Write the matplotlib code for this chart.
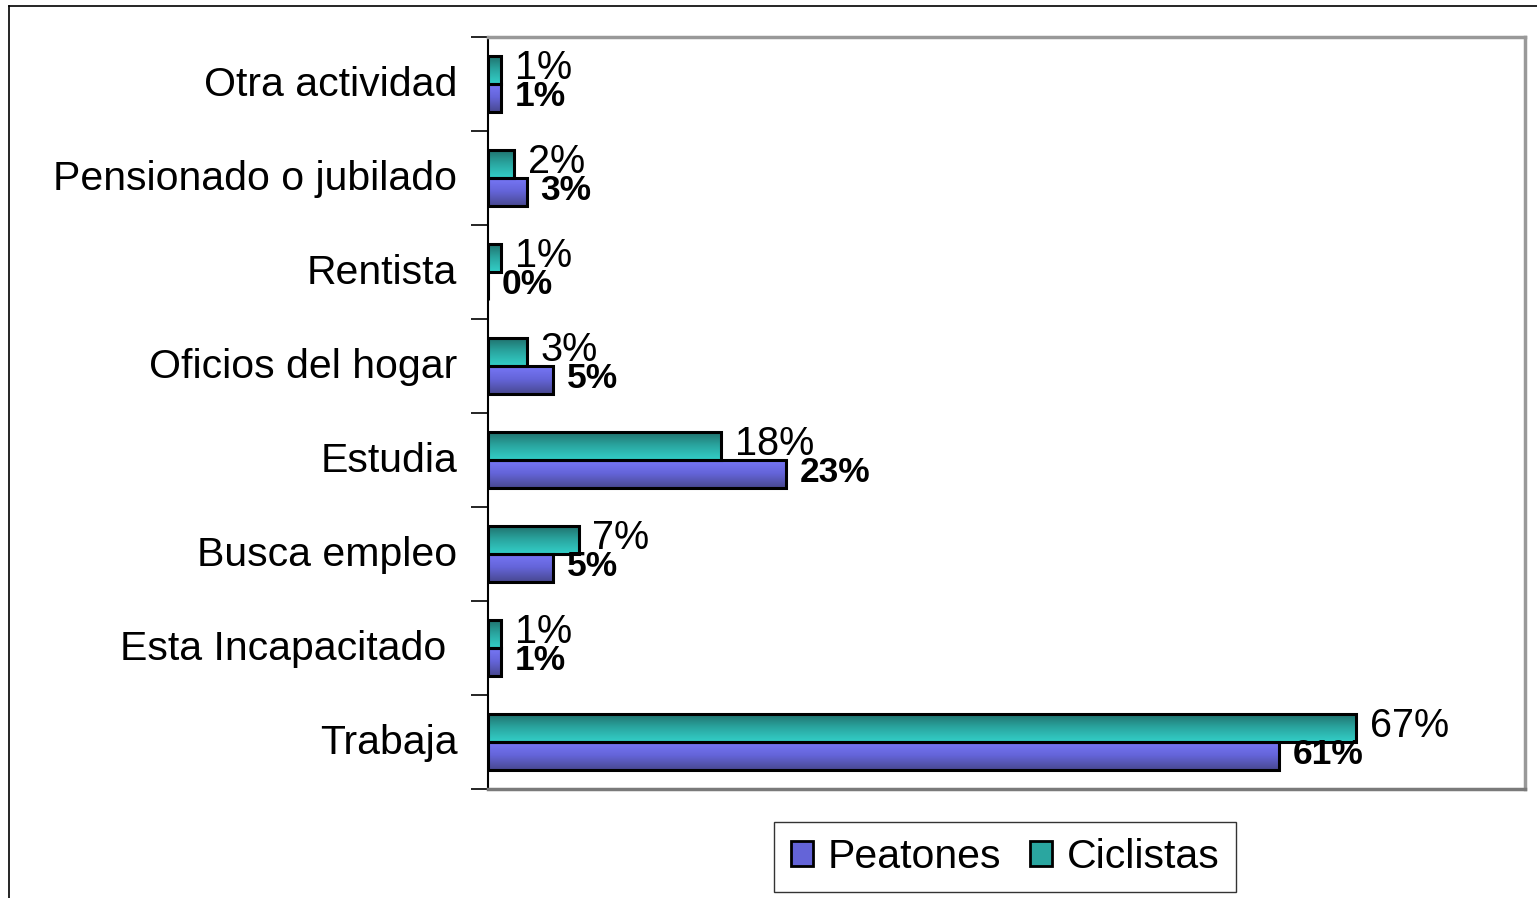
import numpy as np
import matplotlib
matplotlib.use("Agg")
import matplotlib.pyplot as plt
from matplotlib.colors import LinearSegmentedColormap
from matplotlib.patches import Patch
from matplotlib.lines import Line2D
from matplotlib.transforms import ScaledTranslation

plt.rcParams['font.family'] = ['Liberation Sans', 'DejaVu Sans']

categories = ["Trabaja", "Esta Incapacitado ", "Busca empleo", "Estudia",
              "Oficios del hogar", "Rentista", "Pensionado o jubilado", "Otra actividad"]
peatones = [61, 1, 5, 23, 5, 0, 3, 1]
ciclistas = [67, 1, 7, 18, 3, 1, 2, 1]
series_names = ["Peatones", "Ciclistas"]

W, H = 1537, 898
fig = plt.figure(figsize=(W / 100, H / 100), dpi=100)
ax = fig.add_axes([488 / W, 1 - 789 / H, (1525 - 488) / W, (789 - 37) / H])

y = np.arange(len(categories))
bh = 0.3
bars_p = ax.barh(y - bh / 2, peatones, height=bh, color="#6a6ae0", edgecolor="black", linewidth=2.2, zorder=3)
bars_c = ax.barh(y + bh / 2, ciclistas, height=bh, color="#29a8a2", edgecolor="black", linewidth=2.2, zorder=3)

# vertical gradients: colormap index 0 = top of bar
cm_p = LinearSegmentedColormap.from_list("p", ["#7878f8", "#6464d8", "#484890"])
cm_c = LinearSegmentedColormap.from_list("c", ["#1f6e6a", "#2aa6a0", "#33cfc8"])
grad = np.linspace(0, 1, 64).reshape(-1, 1)
for bars, cm in ((bars_p, cm_p), (bars_c, cm_c)):
    for b in bars:
        x0, y0, w, h = b.get_x(), b.get_y(), b.get_width(), b.get_height()
        if w <= 0:
            continue
        im = ax.imshow(grad, cmap=cm, aspect="auto", extent=(x0, x0 + w, y0, y0 + h),
                       origin="upper", zorder=3.5, interpolation="bilinear")
        im.set_clip_path(b)
        b.set_facecolor("none")
        b.set_zorder(4)

ax.set_xlim(0, 80)
ax.set_ylim(-0.5, len(categories) - 0.5)

for i in range(len(categories)):
    ax.text(ciclistas[i] + 1.05, y[i] + bh / 2 + 0.02, f"{ciclistas[i]}%", fontsize=28.5,
            va="center", ha="left", zorder=5)
    ax.text(peatones[i] + 1.05, y[i] - bh / 2 + 0.02, f"{peatones[i]}%", fontsize=25.5,
            fontweight="bold", va="center", ha="left", zorder=5)

ax.set_xticks([])
ax.set_yticks(y)
ax.set_yticklabels(categories, fontsize=29.5)
ax.set_yticks(np.arange(-0.5, len(categories), 1), minor=True)
ax.tick_params(axis="y", which="major", length=0, pad=22)
ax.tick_params(axis="y", which="minor", length=12, width=1.2, color="black", direction="out")
shift = ScaledTranslation(0, 3 / 100, fig.dpi_scale_trans)
for lbl in ax.get_yticklabels():
    lbl.set_transform(lbl.get_transform() + shift)

for s in ("top", "right", "bottom"):
    ax.spines[s].set_color("#999999")
    ax.spines[s].set_linewidth(2.5)
ax.spines["bottom"].set_color("#7a7a7a")
ax.spines["left"].set_color("black")
ax.spines["left"].set_linewidth(1.5)

handles = [Patch(facecolor="#6464d8", edgecolor="black", linewidth=2),
           Patch(facecolor="#2aa6a0", edgecolor="black", linewidth=2)]
leg = fig.legend(handles, series_names, loc="center", bbox_to_anchor=(1005 / W, 1 - 857 / H),
                 ncol=2, fontsize=29.5, frameon=True, fancybox=False, handlelength=0.55,
                 handleheight=0.55, handletextpad=0.35, columnspacing=0.7, borderpad=0.4,
                 borderaxespad=0)
leg.get_frame().set_edgecolor("black")
leg.get_frame().set_linewidth(1.0)

# outer chart border (extends beyond right/bottom edges)
fig.add_artist(Line2D([9 / W, 9 / W], [0, 1 - 6 / H], color="black", lw=1.2, transform=fig.transFigure))
fig.add_artist(Line2D([9 / W, 1], [1 - 6 / H, 1 - 6 / H], color="black", lw=1.2, transform=fig.transFigure))

fig.savefig("out.png", dpi=100)
